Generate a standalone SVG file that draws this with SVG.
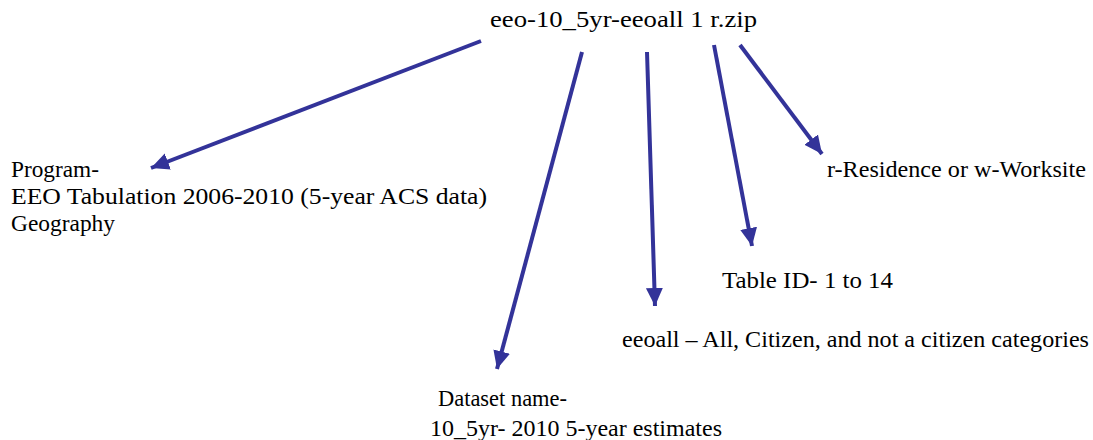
<svg xmlns="http://www.w3.org/2000/svg" width="1093" height="440" viewBox="0 0 1093 440">
<style>
text{font-family:"Liberation Serif","Times New Roman",serif;fill:#000;font-size:23px}
.c{stroke:#333399;stroke-width:4;fill:none}
</style>
<defs>
<marker id="ah" markerUnits="userSpaceOnUse" markerWidth="20" markerHeight="18" refX="18" refY="9" orient="auto">
<path d="M0,0.5 L18,9 L0,17.5 Z" fill="#333399"/>
</marker>
</defs>
<rect width="1093" height="440" fill="#fff"/>
<g id="connectors">
<line class="c" x1="481" y1="41" x2="151" y2="168" marker-end="url(#ah)"/>
<line class="c" x1="582" y1="52" x2="497" y2="369" marker-end="url(#ah)"/>
<line class="c" x1="647" y1="52" x2="655" y2="306" marker-end="url(#ah)"/>
<line class="c" x1="714" y1="45" x2="752" y2="246" marker-end="url(#ah)"/>
<line class="c" x1="740" y1="45" x2="822" y2="154" marker-end="url(#ah)"/>
</g>
<g id="root"><text x="490" y="27" textLength="267" lengthAdjust="spacingAndGlyphs">eeo-10_5yr-eeoall 1 r.zip</text></g>
<g id="program">
<text x="11" y="177" textLength="88" lengthAdjust="spacingAndGlyphs">Program-</text>
<text x="11" y="204" textLength="476" lengthAdjust="spacingAndGlyphs">EEO Tabulation 2006-2010 (5-year ACS data)</text>
<text x="11" y="231" textLength="104" lengthAdjust="spacingAndGlyphs">Geography</text>
</g>
<g id="residence"><text x="827" y="177" textLength="259" lengthAdjust="spacingAndGlyphs">r-Residence or w-Worksite</text></g>
<g id="table"><text x="722" y="288" textLength="171" lengthAdjust="spacingAndGlyphs">Table ID- 1 to 14</text></g>
<g id="eeoall"><text x="622" y="347" textLength="467" lengthAdjust="spacingAndGlyphs">eeoall – All, Citizen, and not a citizen categories</text></g>
<g id="dataset">
<text x="438" y="406" textLength="129" lengthAdjust="spacingAndGlyphs">Dataset name-</text>
<text x="430" y="436" textLength="292" lengthAdjust="spacingAndGlyphs">10_5yr- 2010 5-year estimates</text>
</g>
</svg>
